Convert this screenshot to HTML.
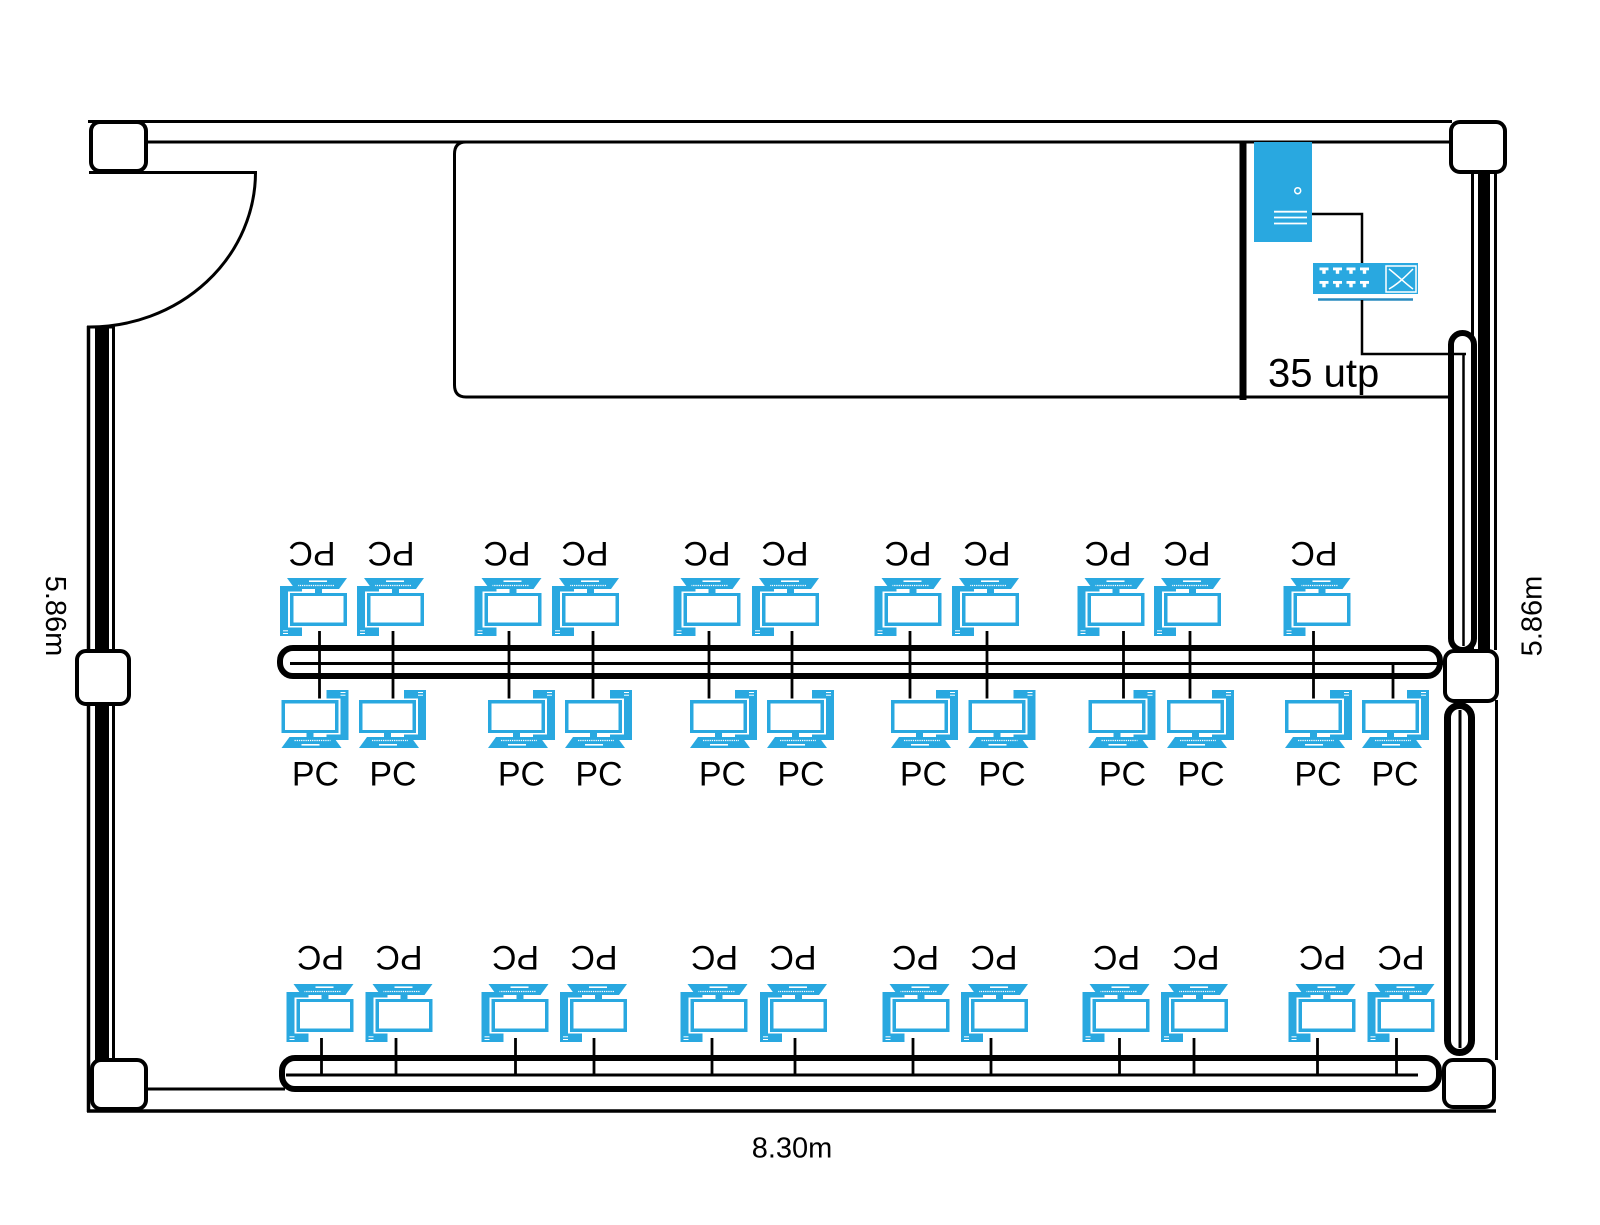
<!DOCTYPE html>
<html>
<head>
<meta charset="utf-8">
<style>
  html, body { margin: 0; padding: 0; background: #ffffff; }
  svg { display: block; }
  text { font-family: "Liberation Sans", "DejaVu Sans", sans-serif; fill: #000; }
</style>
</head>
<body>
<svg width="1600" height="1225" viewBox="0 0 1600 1225" xmlns="http://www.w3.org/2000/svg">
  <defs>
    <g id="pc">
      <rect x="45" y="0" width="22" height="50" fill="#29a8e0"/>
      <line x1="59" y1="2.5" x2="64" y2="2.5" stroke="#fff" stroke-width="1"/>
      <line x1="59" y1="5.2" x2="64" y2="5.2" stroke="#fff" stroke-width="1"/>
      <rect x="-1" y="8.5" width="60" height="36" fill="#fff"/>
      <rect x="0" y="10" width="57" height="33" fill="#29a8e0"/>
      <rect x="3.5" y="13.5" width="50" height="26.5" fill="#fff"/>
      <rect x="25" y="43" width="7" height="5" fill="#29a8e0"/>
      <polygon points="8,47 52,47 60,58 0,58" fill="#29a8e0"/>
      <line x1="13" y1="50.5" x2="49" y2="50.5" stroke="#fff" stroke-width="1.2" stroke-dasharray="1.3 0.9"/>
      <rect x="20" y="54" width="18" height="1.6" fill="#fff"/>
    </g>
  </defs>

  <!-- ===== WALLS ===== -->
  <line x1="88" y1="121.5" x2="1452" y2="121.5" stroke="#000" stroke-width="3"/>
  <line x1="147" y1="142" x2="1452" y2="142" stroke="#000" stroke-width="3"/>

  <line x1="88.5" y1="326" x2="88.5" y2="1112" stroke="#000" stroke-width="3.5"/>
  <rect x="95" y="326" width="14" height="734" fill="#000"/>
  <line x1="113.5" y1="326" x2="113.5" y2="1060" stroke="#000" stroke-width="3"/>
  <line x1="87" y1="327" x2="115" y2="327" stroke="#000" stroke-width="3"/>

  <line x1="89" y1="172.5" x2="257" y2="172.5" stroke="#000" stroke-width="3"/>
  <path d="M255.5,172 A166,155 0 0 1 89,327" fill="none" stroke="#000" stroke-width="3"/>

  <line x1="1472.5" y1="172" x2="1472.5" y2="650" stroke="#000" stroke-width="3"/>
  <rect x="1478" y="172" width="12" height="478" fill="#000"/>
  <line x1="1495.5" y1="172" x2="1495.5" y2="650" stroke="#000" stroke-width="3"/>
  <line x1="1496.5" y1="700" x2="1496.5" y2="1060" stroke="#000" stroke-width="3"/>

  <line x1="87" y1="1111" x2="1496" y2="1111" stroke="#000" stroke-width="3.5"/>
  <line x1="147" y1="1089" x2="285" y2="1089" stroke="#000" stroke-width="3"/>

  <path d="M1450,142 L466,142 Q454.5,142 454.5,154 L454.5,385 Q454.5,397 466,397 L1450,397" fill="none" stroke="#000" stroke-width="3"/>
  <line x1="1243" y1="141" x2="1243" y2="400" stroke="#000" stroke-width="7"/>

  <!-- ===== DUCTS ===== -->
  <rect x="280" y="648" width="1160" height="28" rx="13" ry="13" fill="#fff" stroke="#000" stroke-width="6"/>
  <line x1="290" y1="663.5" x2="1448" y2="663.5" stroke="#000" stroke-width="3"/>

  <rect x="282" y="1058" width="1157" height="31" rx="13" ry="13" fill="#fff" stroke="#000" stroke-width="6"/>
  <line x1="286" y1="1075" x2="1418" y2="1075" stroke="#000" stroke-width="3"/>

  <rect x="1451" y="333" width="23" height="317" rx="11.5" ry="11.5" fill="#fff" stroke="#000" stroke-width="6"/>
  <line x1="1463.5" y1="353" x2="1463.5" y2="646" stroke="#000" stroke-width="2.5"/>

  <rect x="1447.5" y="705.5" width="24" height="347" rx="12" ry="12" fill="#fff" stroke="#000" stroke-width="7"/>
  <line x1="1460" y1="710" x2="1460" y2="1048" stroke="#000" stroke-width="3"/>

  <!-- ===== CORNER BOXES ===== -->
  <rect x="91" y="122" width="55" height="49" rx="9" ry="9" fill="#fff" stroke="#000" stroke-width="4"/>
  <rect x="1451" y="122" width="54" height="50" rx="9" ry="9" fill="#fff" stroke="#000" stroke-width="4"/>
  <rect x="77" y="651" width="52" height="53" rx="9" ry="9" fill="#fff" stroke="#000" stroke-width="4"/>
  <rect x="1445" y="651" width="52" height="50" rx="9" ry="9" fill="#fff" stroke="#000" stroke-width="4"/>
  <rect x="92" y="1060" width="54" height="49" rx="9" ry="9" fill="#fff" stroke="#000" stroke-width="4"/>
  <rect x="1444" y="1060" width="50" height="47" rx="9" ry="9" fill="#fff" stroke="#000" stroke-width="4"/>

  <!-- ===== SERVER + SWITCH ===== -->
  <rect x="1254" y="142" width="58" height="100" fill="#29a8e0"/>
  <circle cx="1297.7" cy="190.7" r="3" fill="none" stroke="#fff" stroke-width="1.5"/>
  <line x1="1274" y1="211.7" x2="1307" y2="211.7" stroke="#fff" stroke-width="1.8"/>
  <line x1="1274" y1="217.5" x2="1307" y2="217.5" stroke="#fff" stroke-width="1.8"/>
  <line x1="1274" y1="223.5" x2="1307" y2="223.5" stroke="#fff" stroke-width="1.8"/>

  <polyline points="1312,214 1362,214 1362,264" fill="none" stroke="#000" stroke-width="2.5"/>

  <rect x="1313" y="263" width="105" height="31" fill="#29a8e0"/>
  <g fill="#fff">
    <rect x="1319.5" y="267.5" width="9" height="2.8"/><rect x="1322.3" y="270" width="3.4" height="3.8"/>
    <rect x="1333" y="267.5" width="9" height="2.8"/><rect x="1335.8" y="270" width="3.4" height="3.8"/>
    <rect x="1346.5" y="267.5" width="9" height="2.8"/><rect x="1349.3" y="270" width="3.4" height="3.8"/>
    <rect x="1360" y="267.5" width="9" height="2.8"/><rect x="1362.8" y="270" width="3.4" height="3.8"/>
    <rect x="1319.5" y="281" width="9" height="2.8"/><rect x="1322.3" y="283.5" width="3.4" height="3.8"/>
    <rect x="1333" y="281" width="9" height="2.8"/><rect x="1335.8" y="283.5" width="3.4" height="3.8"/>
    <rect x="1346.5" y="281" width="9" height="2.8"/><rect x="1349.3" y="283.5" width="3.4" height="3.8"/>
    <rect x="1360" y="281" width="9" height="2.8"/><rect x="1362.8" y="283.5" width="3.4" height="3.8"/>
  </g>
  <rect x="1386" y="266" width="30" height="26" fill="none" stroke="#fff" stroke-width="1.5"/>
  <path d="M1389,269 C1398,276 1406,284 1413,289 M1413,269 C1406,276 1398,284 1389,289" fill="none" stroke="#fff" stroke-width="1.5"/>
  <line x1="1318" y1="299.5" x2="1413" y2="299.5" stroke="#2a8bbf" stroke-width="2.5"/>

  <polyline points="1362,300 1362,354 1466,354" fill="none" stroke="#000" stroke-width="2.5"/>

  <text x="1268" y="386.5" font-size="40">35 utp</text>

  <!-- ===== MIDDLE ROW CONNECTORS ===== -->
  <g stroke="#000" stroke-width="2.8">
    <line x1="319.5" y1="631" x2="319.5" y2="699"/>
    <line x1="393" y1="631" x2="393" y2="699"/>
    <line x1="509" y1="631" x2="509" y2="699"/>
    <line x1="593" y1="631" x2="593" y2="699"/>
    <line x1="709" y1="631" x2="709" y2="699"/>
    <line x1="792" y1="631" x2="792" y2="699"/>
    <line x1="910" y1="631" x2="910" y2="699"/>
    <line x1="987" y1="631" x2="987" y2="699"/>
    <line x1="1123.5" y1="631" x2="1123.5" y2="699"/>
    <line x1="1190" y1="631" x2="1190" y2="699"/>
    <line x1="1313.5" y1="631" x2="1313.5" y2="699"/>
    <line x1="1393" y1="664" x2="1393" y2="699"/>
  </g>

  <!-- ===== BOTTOM ROW CONNECTORS ===== -->
  <g stroke="#000" stroke-width="2.8">
    <line x1="321.5" y1="1038" x2="321.5" y2="1075"/>
    <line x1="396" y1="1038" x2="396" y2="1075"/>
    <line x1="515.5" y1="1038" x2="515.5" y2="1075"/>
    <line x1="594" y1="1038" x2="594" y2="1075"/>
    <line x1="712" y1="1038" x2="712" y2="1075"/>
    <line x1="795" y1="1038" x2="795" y2="1075"/>
    <line x1="913" y1="1038" x2="913" y2="1075"/>
    <line x1="991" y1="1038" x2="991" y2="1075"/>
    <line x1="1119.5" y1="1038" x2="1119.5" y2="1075"/>
    <line x1="1194" y1="1038" x2="1194" y2="1075"/>
    <line x1="1317.5" y1="1038" x2="1317.5" y2="1075"/>
    <line x1="1396.5" y1="1038" x2="1396.5" y2="1075"/>
  </g>

  <!-- ===== PCs: middle top (flipped) ===== -->
  <use href="#pc" transform="translate(347,636) rotate(180)"/>
  <use href="#pc" transform="translate(424,636) rotate(180)"/>
  <use href="#pc" transform="translate(541.5,636) rotate(180)"/>
  <use href="#pc" transform="translate(619,636) rotate(180)"/>
  <use href="#pc" transform="translate(740.5,636) rotate(180)"/>
  <use href="#pc" transform="translate(819,636) rotate(180)"/>
  <use href="#pc" transform="translate(941.5,636) rotate(180)"/>
  <use href="#pc" transform="translate(1019,636) rotate(180)"/>
  <use href="#pc" transform="translate(1144.5,636) rotate(180)"/>
  <use href="#pc" transform="translate(1221,636) rotate(180)"/>
  <use href="#pc" transform="translate(1350.5,636) rotate(180)"/>

  <!-- ===== PCs: middle bottom (normal) ===== -->
  <use href="#pc" transform="translate(281.5,690)"/>
  <use href="#pc" transform="translate(359,690)"/>
  <use href="#pc" transform="translate(488,690)"/>
  <use href="#pc" transform="translate(565,690)"/>
  <use href="#pc" transform="translate(690,690)"/>
  <use href="#pc" transform="translate(767,690)"/>
  <use href="#pc" transform="translate(891,690)"/>
  <use href="#pc" transform="translate(968.5,690)"/>
  <use href="#pc" transform="translate(1088.5,690)"/>
  <use href="#pc" transform="translate(1167,690)"/>
  <use href="#pc" transform="translate(1285,690)"/>
  <use href="#pc" transform="translate(1362,690)"/>

  <!-- ===== PCs: bottom row (flipped) ===== -->
  <use href="#pc" transform="translate(353.5,1042) rotate(180)"/>
  <use href="#pc" transform="translate(432.5,1042) rotate(180)"/>
  <use href="#pc" transform="translate(548.5,1042) rotate(180)"/>
  <use href="#pc" transform="translate(627,1042) rotate(180)"/>
  <use href="#pc" transform="translate(747.5,1042) rotate(180)"/>
  <use href="#pc" transform="translate(827,1042) rotate(180)"/>
  <use href="#pc" transform="translate(949.5,1042) rotate(180)"/>
  <use href="#pc" transform="translate(1028,1042) rotate(180)"/>
  <use href="#pc" transform="translate(1149.5,1042) rotate(180)"/>
  <use href="#pc" transform="translate(1228,1042) rotate(180)"/>
  <use href="#pc" transform="translate(1355.5,1042) rotate(180)"/>
  <use href="#pc" transform="translate(1434.5,1042) rotate(180)"/>

  <!-- ===== LABELS: middle top (upside-down) ===== -->
  <g font-size="34" text-anchor="middle">
    <text x="312" y="566" transform="rotate(180 312 554)">PC</text>
    <text x="391" y="566" transform="rotate(180 391 554)">PC</text>
    <text x="507" y="566" transform="rotate(180 507 554)">PC</text>
    <text x="585" y="566" transform="rotate(180 585 554)">PC</text>
    <text x="707" y="566" transform="rotate(180 707 554)">PC</text>
    <text x="785" y="566" transform="rotate(180 785 554)">PC</text>
    <text x="908" y="566" transform="rotate(180 908 554)">PC</text>
    <text x="987" y="566" transform="rotate(180 987 554)">PC</text>
    <text x="1108" y="566" transform="rotate(180 1108 554)">PC</text>
    <text x="1187" y="566" transform="rotate(180 1187 554)">PC</text>
    <text x="1314" y="566" transform="rotate(180 1314 554)">PC</text>
  </g>

  <!-- ===== LABELS: middle bottom ===== -->
  <g font-size="34" text-anchor="middle">
    <text x="315.5" y="785.5">PC</text>
    <text x="393" y="785.5">PC</text>
    <text x="521.5" y="785.5">PC</text>
    <text x="599" y="785.5">PC</text>
    <text x="722.5" y="785.5">PC</text>
    <text x="801" y="785.5">PC</text>
    <text x="923.5" y="785.5">PC</text>
    <text x="1002" y="785.5">PC</text>
    <text x="1122.5" y="785.5">PC</text>
    <text x="1201" y="785.5">PC</text>
    <text x="1318" y="785.5">PC</text>
    <text x="1395" y="785.5">PC</text>
  </g>

  <!-- ===== LABELS: bottom row (upside-down) ===== -->
  <g font-size="34" text-anchor="middle">
    <text x="320.5" y="970" transform="rotate(180 320.5 958)">PC</text>
    <text x="399" y="970" transform="rotate(180 399 958)">PC</text>
    <text x="515.5" y="970" transform="rotate(180 515.5 958)">PC</text>
    <text x="594" y="970" transform="rotate(180 594 958)">PC</text>
    <text x="714.5" y="970" transform="rotate(180 714.5 958)">PC</text>
    <text x="793" y="970" transform="rotate(180 793 958)">PC</text>
    <text x="915.5" y="970" transform="rotate(180 915.5 958)">PC</text>
    <text x="994" y="970" transform="rotate(180 994 958)">PC</text>
    <text x="1116.5" y="970" transform="rotate(180 1116.5 958)">PC</text>
    <text x="1196" y="970" transform="rotate(180 1196 958)">PC</text>
    <text x="1322.5" y="970" transform="rotate(180 1322.5 958)">PC</text>
    <text x="1401" y="970" transform="rotate(180 1401 958)">PC</text>
  </g>

  <!-- ===== DIMENSIONS ===== -->
  <text x="56.5" y="626.5" font-size="29" text-anchor="middle" transform="rotate(90 56.5 616)">5.86m</text>
  <text x="1531" y="626.5" font-size="29" text-anchor="middle" transform="rotate(-90 1531 616)">5.86m</text>
  <text x="792" y="1157.5" font-size="29" text-anchor="middle">8.30m</text>
</svg>
</body>
</html>
